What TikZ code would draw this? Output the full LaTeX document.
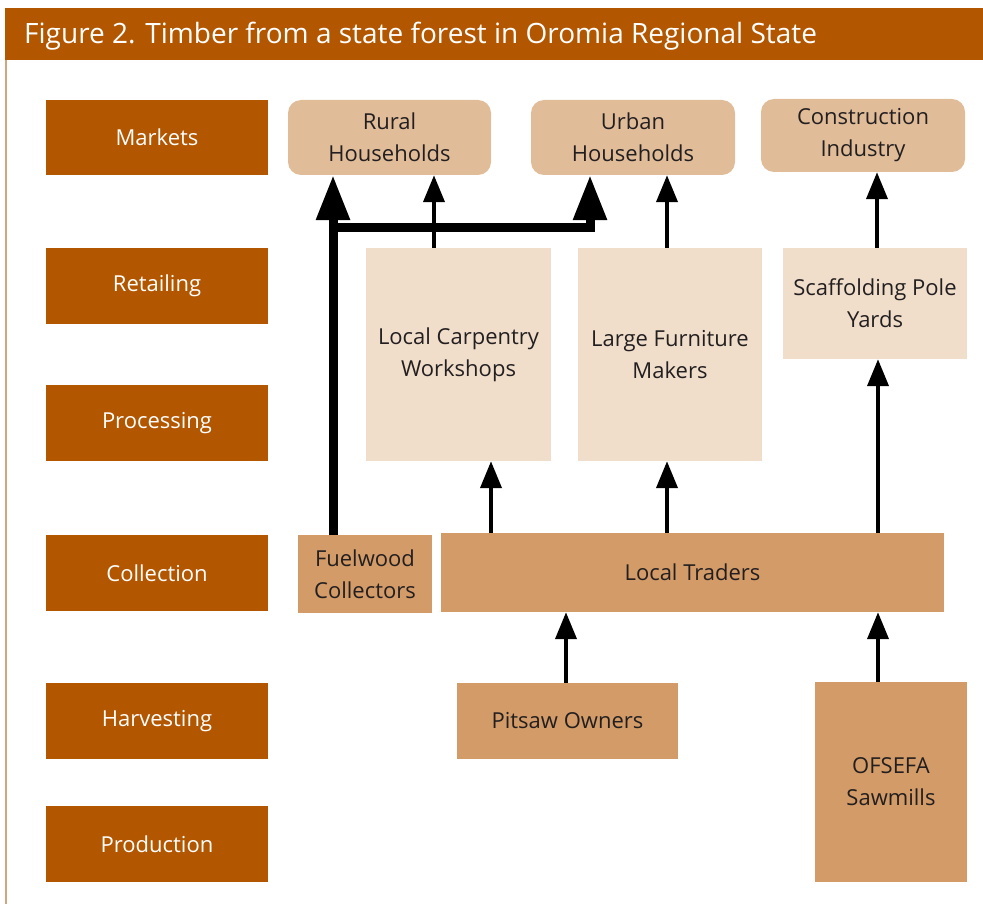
\documentclass[tikz,border=0pt]{standalone}
\usepackage{fontspec}
\setmainfont{Open Sans}
\usetikzlibrary{arrows.meta}
\definecolor{hdr}{HTML}{B35600}
\definecolor{mkt}{HTML}{E0BC99}
\definecolor{ret}{HTML}{F0DECB}
\definecolor{col}{HTML}{D29B67}
\definecolor{frame}{HTML}{D6A47C}
\definecolor{ink}{HTML}{231F20}
\tikzset{
  lbl/.style={fill=hdr,text=white,font=\fontsize{22}{28}\selectfont,inner sep=0pt},
  mktbox/.style={fill=mkt,rounded corners=13pt,font=\fontsize{22}{32}\selectfont,align=center,inner sep=0pt,text=ink},
  retbox/.style={fill=ret,font=\fontsize{22}{32}\selectfont,align=center,inner sep=0pt,text=ink},
  colbox/.style={fill=col,font=\fontsize{22}{32}\selectfont,align=center,inner sep=0pt,text=ink},
  thin arrow/.style={line width=4pt,-{Triangle[length=27pt,width=21pt]}},
  thick arrow/.style={line width=9pt,line join=miter,-{Triangle[length=45pt,width=32pt]}},
}
\newcommand{\rbox}[6]{\node[#1,minimum width=#4pt-#2pt,minimum height=#5pt-#3pt] (#6) at ({(#2+#4)/2},{(#3+#5)/2})}
\begin{document}
\begin{tikzpicture}[x=1pt,y=-1pt]
\useasboundingbox (0,0) rectangle (983,904);
% header and frame
\fill[hdr] (5,8) rectangle (983,60);
\node[anchor=west,text=white,font=\fontsize{28}{32}\selectfont,inner sep=0pt] (title) at (24,36) {Figure 2. Timber from a state forest in Oromia Regional State};
\draw[frame,line width=1.5pt] (5.75,60) -- (5.75,904);
% stage labels
\rbox{lbl}{46}{100}{268}{175}{markets} {Markets};
\rbox{lbl}{46}{248}{268}{324}{retailing} {Retailing};
\rbox{lbl}{46}{385}{268}{461}{processing} {Processing};
\rbox{lbl}{46}{535}{268}{611}{collection} {Collection};
\rbox{lbl}{46}{683}{268}{759}{harvesting} {Harvesting};
\rbox{lbl}{46}{806}{268}{882}{production} {Production};
% markets
\rbox{mktbox}{288}{100}{491}{175}{rural} {Rural\\Households};
\rbox{mktbox}{531}{100}{735}{175}{urban} {Urban\\Households};
\rbox{mktbox}{761}{99}{965}{172}{constr} {Construction\\Industry};
% retail / processing
\rbox{retbox}{366}{248}{551}{461}{carp} {Local Carpentry\\Workshops};
\rbox{retbox}{578}{248}{762}{461}{furn} {Large Furniture\\Makers};
\rbox{retbox}{783}{248}{967}{359}{scaf} {Scaffolding Pole\\Yards};
% collection
\rbox{colbox}{298}{535}{432}{613}{fuel} {Fuelwood\\Collectors};
\rbox{colbox}{441}{533}{944}{612}{traders} {Local Traders};
% harvesting
\rbox{colbox}{457}{683}{678}{759}{pitsaw} {Pitsaw Owners};
\rbox{colbox}{815}{682}{967}{882}{ofsefa} {OFSEFA\\Sawmills};
% thick arrows
\coordinate (fuelTop) at (333,535);
\coordinate (split) at (333,228);
\draw[thick arrow] (fuelTop) -- (fuelTop |- rural.south);
\draw[thick arrow] (split) -- (590,228) -- (590,228 |- urban.south);
% thin arrows
\draw[thin arrow] (carp.north -| 434,0) -- (rural.south -| 434,0);
\draw[thin arrow] (furn.north -| 667,0) -- (urban.south -| 667,0);
\draw[thin arrow] (scaf.north -| 877,0) -- (constr.south -| 877,0);
\draw[thin arrow] (traders.north -| 491,0) -- (carp.south -| 491,0);
\draw[thin arrow] (traders.north -| 667,0) -- (furn.south -| 667,0);
\draw[thin arrow] (traders.north -| 878,0) -- (scaf.south -| 878,0);
\draw[thin arrow] (pitsaw.north -| 566,0) -- (traders.south -| 566,0);
\draw[thin arrow] (ofsefa.north -| 878,0) -- (traders.south -| 878,0);
\end{tikzpicture}
\end{document}
